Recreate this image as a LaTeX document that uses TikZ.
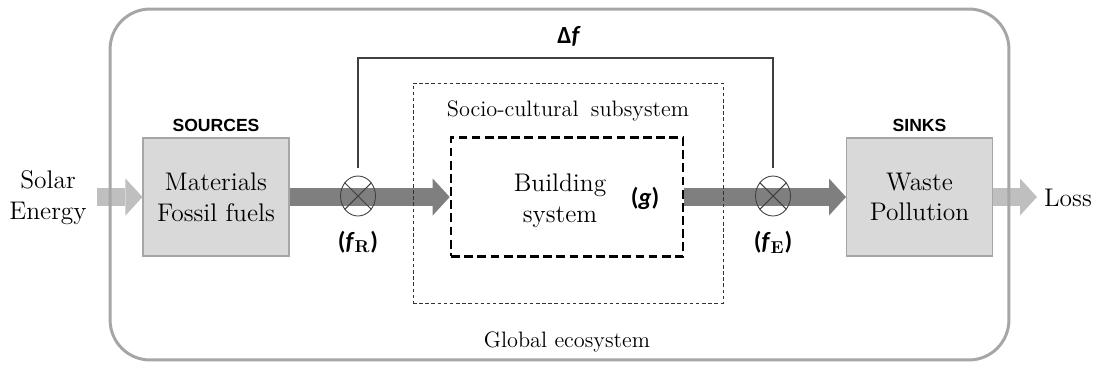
\documentclass[tikz,border=0pt]{standalone}
\usepackage{fontspec}
\newfontfamily\capfont{Liberation Sans}
\newfontfamily\symfont{Carlito}
\usetikzlibrary{arrows.meta,positioning,shapes.geometric}
\definecolor{flowdark}{HTML}{7F7F7F}
\definecolor{flowlight}{HTML}{BFBFBF}
\definecolor{boxfill}{HTML}{D9D9D9}
\definecolor{boxline}{HTML}{A6A6A6}
\newcommand{\flux}[1]{(\textit{f}\textsubscript{\rmfamily\bfseries #1})}
\tikzset{
  txt/.style={font=\fontsize{14.5}{17.5}\selectfont,align=center,inner sep=0pt},
  small/.style={font=\fontsize{12.7}{15}\selectfont,inner sep=0pt},
  head/.style={font=\capfont\bfseries\fontsize{10}{12}\selectfont,inner sep=0pt},
  sym/.style={font=\symfont\bfseries\fontsize{14}{17}\selectfont,inner sep=0pt},
  box/.style={txt,draw=boxline,line width=0.6pt,fill=boxfill,
    minimum width=2.92cm,minimum height=2.36cm},
  eco/.style={draw=boxline,line width=1.7pt,rounded corners=0.8cm,
    minimum width=17.98cm,minimum height=7.02cm},
  subsys/.style={draw=black!80,line width=0.5pt,dash pattern=on 2pt off 1.5pt,
    minimum width=6.2cm,minimum height=4.4cm},
  bldbox/.style={draw=black,line width=1.5pt,dash pattern=on 5pt off 2.5pt,
    minimum width=4.64cm,minimum height=2.38cm},
  flow/.style={line width=0.36cm,draw=flowdark,
    -{Triangle[length=0.34cm,width=0.74cm,line width=0pt]}},
  flowl/.style={flow,draw=flowlight},
  mix/.style={ellipse,draw=black!75,line width=0.5pt,minimum width=0.7cm,
    minimum height=0.8cm,inner sep=0pt},
  fb/.style={draw=black!75,line width=0.6pt},
}
\begin{document}
\begin{tikzpicture}[x=0.02cm,y=-0.02cm]
  \useasboundingbox (0,0) rectangle (1098,369);
  % boxes along the flow
  \node[box] (src) at (216,197) {Materials\\Fossil fuels};
  \node[box] (snk) at (919.5,197) {Waste\\Pollution};
  \node[bldbox] (bld) at (567,197) {};
  \node[head,above=0.11cm of src] {SOURCES};
  \node[head,above=0.11cm of snk] {SINKS};
  \node[txt] (solar) at (48,198) {Solar\\Energy};
  \node[txt] (loss) at (1068,198) {Loss};
  \coordinate (sun) at (97,197);
  \coordinate (out) at (1037,197);
  % flows
  \draw[flowl] (sun) -- (src.west);
  \draw[flow] (src.east) -- (bld.west);
  \draw[flow] (bld.east) -- (snk.west);
  \draw[flowl] (snk.east) -- (out);
  % frames
  \node[eco] (eco) at (559.5,184.5) {};
  \node[subsys] (soc) at (568,193) {};
  \node[small,below=0.36cm of soc.north] {Socio-cultural\hspace{0.55em}subsystem};
  \node[small] (glob) at (567,342) {Global ecosystem};
  \node[txt] (bldtxt) at (560,201) {Building\\system};
  \node[sym] (g) at (645,198) {(\textit{g})};
  % mixing points and feedback
  \node[mix] (mr) at (358,196) {};
  \node[mix] (me) at (773,196) {};
  \draw[fb] (mr.45) -- (mr.225) (mr.135) -- (mr.315);
  \draw[fb] (me.45) -- (me.225) (me.135) -- (me.315);
  \node[sym] (fr) at (358,242) {\flux{R}};
  \node[sym] (fe) at (773,242) {\flux{E}};
  \coordinate (fbtop) at (565,58);
  \draw[fb,shorten <=0.15cm,shorten >=0.15cm] (mr.north) |- (fbtop) -| (me.north);
  \node[sym] (df) at (569,36) {Δ\textit{f}};
\end{tikzpicture}
\end{document}
